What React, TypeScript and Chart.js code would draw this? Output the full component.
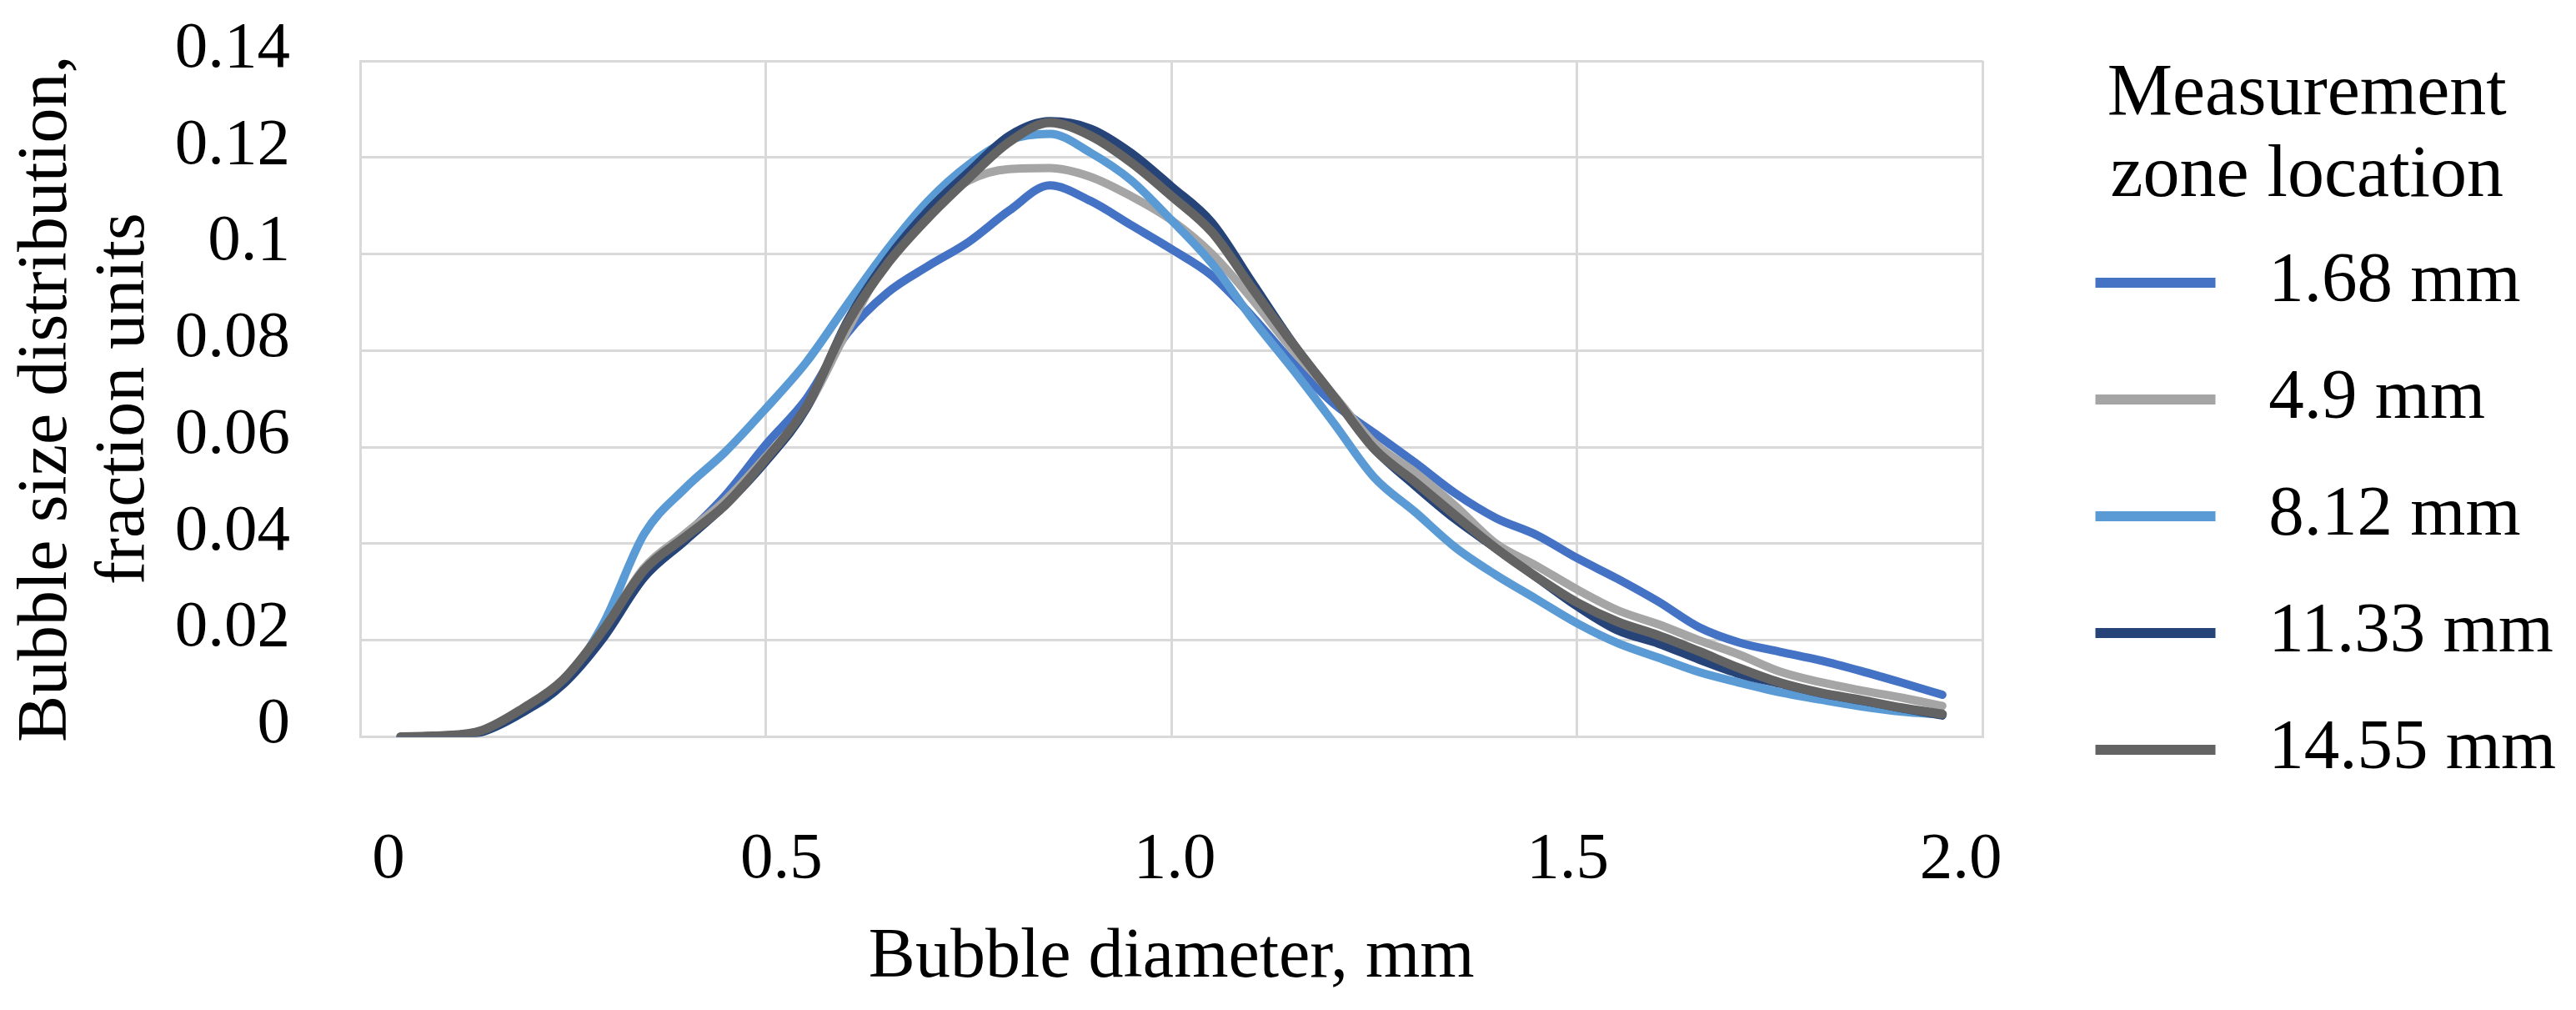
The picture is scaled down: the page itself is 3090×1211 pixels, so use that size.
import { useEffect, useRef } from "react"
import { Chart, registerables } from "chart.js"

Chart.register(...registerables)

// bubble diameter, mm
const diameters = [
  0.05, 0.1, 0.15, 0.2, 0.25, 0.3, 0.35, 0.4, 0.45, 0.5, 0.55, 0.6, 0.65, 0.7, 0.75, 0.8, 0.85, 0.9, 0.95, 1.0,
  1.05, 1.1, 1.15, 1.2, 1.25, 1.3, 1.35, 1.4, 1.45, 1.5, 1.55, 1.6, 1.65, 1.7, 1.75, 1.8, 1.85, 1.9, 1.95,
]

const zone168 = [
  0, 0.0002, 0.0012, 0.0055, 0.0112, 0.021, 0.033, 0.0415, 0.05, 0.0605, 0.07, 0.0835, 0.092, 0.0975, 0.1025, 0.109,
  0.1142, 0.111, 0.106, 0.101, 0.0955, 0.087, 0.0774, 0.069, 0.0629, 0.0568, 0.0504, 0.0453, 0.0418, 0.037, 0.0327,
  0.028, 0.0227, 0.0195, 0.0176, 0.0158, 0.0136, 0.0112, 0.0087,
]
const zone49 = [
  0, 0.0002, 0.0012, 0.0057, 0.0117, 0.0222, 0.035, 0.042, 0.049, 0.058, 0.068, 0.084, 0.099, 0.1087, 0.1152, 0.1176,
  0.1178, 0.116, 0.112, 0.107, 0.1, 0.0905, 0.08, 0.0707, 0.0609, 0.0548, 0.0478, 0.04, 0.0354, 0.0305, 0.0262,
  0.0233, 0.02, 0.017, 0.0135, 0.0113, 0.0096, 0.0081, 0.0064,
]
const zone812 = [
  0, 0.0002, 0.001, 0.005, 0.011, 0.0235, 0.042, 0.0514, 0.059, 0.068, 0.0776, 0.0895, 0.101, 0.111, 0.1185, 0.1236,
  0.1249, 0.121, 0.1153, 0.107, 0.098, 0.0865, 0.076, 0.065, 0.0537, 0.0466, 0.0392, 0.0335, 0.0285, 0.0235, 0.0194,
  0.0164, 0.0134, 0.0112, 0.0092, 0.0077, 0.0063, 0.0052, 0.0046,
]
const zone1133 = [
  0, 0.0002, 0.001, 0.005, 0.0108, 0.0205, 0.033, 0.0405, 0.048, 0.057, 0.068, 0.086, 0.099, 0.109, 0.117, 0.1245,
  0.1275, 0.126, 0.121, 0.114, 0.1065, 0.094, 0.0815, 0.0705, 0.0596, 0.052, 0.045, 0.039, 0.033, 0.027, 0.022,
  0.0193, 0.016, 0.013, 0.011, 0.009, 0.0075, 0.0059, 0.0044,
]
const zone1455 = [
  0, 0.0002, 0.0013, 0.0058, 0.0118, 0.0222, 0.0345, 0.0413, 0.048, 0.0575, 0.0684, 0.0855, 0.098, 0.1075, 0.1157,
  0.1232, 0.1272, 0.1245, 0.119, 0.112, 0.1045, 0.0928, 0.0813, 0.0705, 0.0596, 0.0528, 0.0458, 0.039, 0.0331,
  0.0278, 0.0238, 0.021, 0.0177, 0.0142, 0.0112, 0.0091, 0.0076, 0.006, 0.0047,
]

const seriesLabels = ["1.68 mm", "4.9 mm", "8.12 mm", "11.33 mm", "14.55 mm"]
const seriesValues = [zone168, zone49, zone812, zone1133, zone1455]
const seriesColors = ["#4472C4", "#A5A5A5", "#5B9BD5", "#264478", "#636363"]

const xTickValues = [0, 0.5, 1.0, 1.5, 2.0]
const yTickValues = [0, 0.02, 0.04, 0.06, 0.08, 0.1, 0.12, 0.14]

const FONT = "'Liberation Serif', 'Times New Roman', serif"
const GRID = "#d9d9d9"

export default function App() {
  const chartRef = useRef<HTMLCanvasElement>(null)
  const chartInstance = useRef<Chart | null>(null)

  useEffect(() => {
    if (!chartRef.current) return
    if (chartInstance.current) chartInstance.current.destroy()
    const ctx = chartRef.current.getContext("2d")
    if (!ctx) return

    chartInstance.current = new Chart(ctx, {
      type: "line",
      data: {
        datasets: seriesValues.map((values, i) => ({
          label: seriesLabels[i],
          data: diameters.map((d, j) => ({ x: d, y: values[j] })),
          borderColor: seriesColors[i],
          backgroundColor: seriesColors[i],
          borderWidth: i === 4 ? 11 : 10,
          borderCapStyle: "round",
          borderJoinStyle: "round",
          pointRadius: 0,
          fill: false,
          cubicInterpolationMode: "monotone",
          // last series drawn on top, as in the original
          order: seriesValues.length - i,
        })),
      },
      options: {
        animation: false,
        responsive: true,
        maintainAspectRatio: false,
        devicePixelRatio: 1,
        layout: { padding: { top: 73, left: 0, right: 14, bottom: 0 } },
        plugins: {
          tooltip: { enabled: false },
          legend: {
            position: "right",
            align: "start",
            title: {
              display: true,
              text: ["Measurement", "zone location"],
              color: "#000",
              font: { family: FONT, size: 88, lineHeight: 1.108 },
              padding: { top: -3, bottom: 74 },
            },
            labels: {
              color: "#000",
              font: { family: FONT, size: 85 },
              textAlign: "left",
              boxWidth: 144,
              boxHeight: 12,
              padding: 55,
              sort: (a, b) => (a.datasetIndex ?? 0) - (b.datasetIndex ?? 0),
              generateLabels: (chart) =>
                Chart.defaults.plugins.legend.labels
                  .generateLabels(chart)
                  .map((item) => ({ ...item, lineWidth: 0, text: " " + item.text })),
            },
          },
        },
        scales: {
          x: {
            type: "linear",
            position: "bottom",
            min: 0,
            max: 2,
            afterBuildTicks: (axis) => {
              axis.ticks = xTickValues.map((value) => ({ value }))
            },
            ticks: { display: false },
            grid: { color: GRID, lineWidth: 3, drawTicks: false },
            border: { display: true, color: GRID, width: 3 },
          },
          // tick labels sit slightly inside the grid lines, as in the original figure
          xl: {
            type: "linear",
            position: "bottom",
            min: -0.036,
            max: 2.028,
            afterBuildTicks: (axis) => {
              axis.ticks = xTickValues.map((value) => ({ value }))
            },
            grid: {
              drawOnChartArea: false,
              drawTicks: true,
              tickLength: 100,
              tickColor: "transparent",
              color: "transparent",
            },
            border: { display: false },
            ticks: {
              padding: 0,
              autoSkip: false,
              maxRotation: 0,
              color: "#000",
              font: { family: FONT, size: 79 },
              callback: (v) => (Number(v) === 0 ? "0" : Number(v).toFixed(1)),
            },
            title: {
              display: true,
              text: "Bubble diameter, mm",
              color: "#000",
              font: { family: FONT, size: 84 },
              padding: { top: 20, bottom: 12 },
            },
          },
          y: {
            type: "linear",
            position: "left",
            min: 0,
            max: 0.14,
            afterBuildTicks: (axis) => {
              axis.ticks = yTickValues.map((value) => ({ value }))
            },
            afterFit: (scale) => {
              scale.width = 432
            },
            grid: { color: GRID, lineWidth: 3, drawTicks: true, tickLength: 84, tickColor: "transparent" },
            border: { display: true, color: GRID, width: 3 },
            ticks: {
              padding: 0,
              autoSkip: false,
              labelOffset: -14,
              color: "#000",
              font: { family: FONT, size: 79 },
              callback: (v) => String(Number(Number(v).toFixed(2))),
            },
            title: {
              display: true,
              text: ["Bubble size distribution,", "fraction units"],
              color: "#000",
              font: { family: FONT, size: 84, lineHeight: 1.107 },
              padding: { top: 10, bottom: 14 },
            },
          },
          // hidden, empty strip between the plot and the legend
          spacer: {
            type: "linear",
            position: "right",
            display: false,
            afterFit: (scale) => {
              scale.width = 80
            },
          },
        },
      },
    })

    return () => {
      if (chartInstance.current) {
        chartInstance.current.destroy()
        chartInstance.current = null
      }
    }
  }, [])

  return (
    <div style={{ position: "absolute", left: 0, top: 0, width: 3090, height: 1211, background: "#fff" }}>
      <canvas ref={chartRef} />
    </div>
  )
}
